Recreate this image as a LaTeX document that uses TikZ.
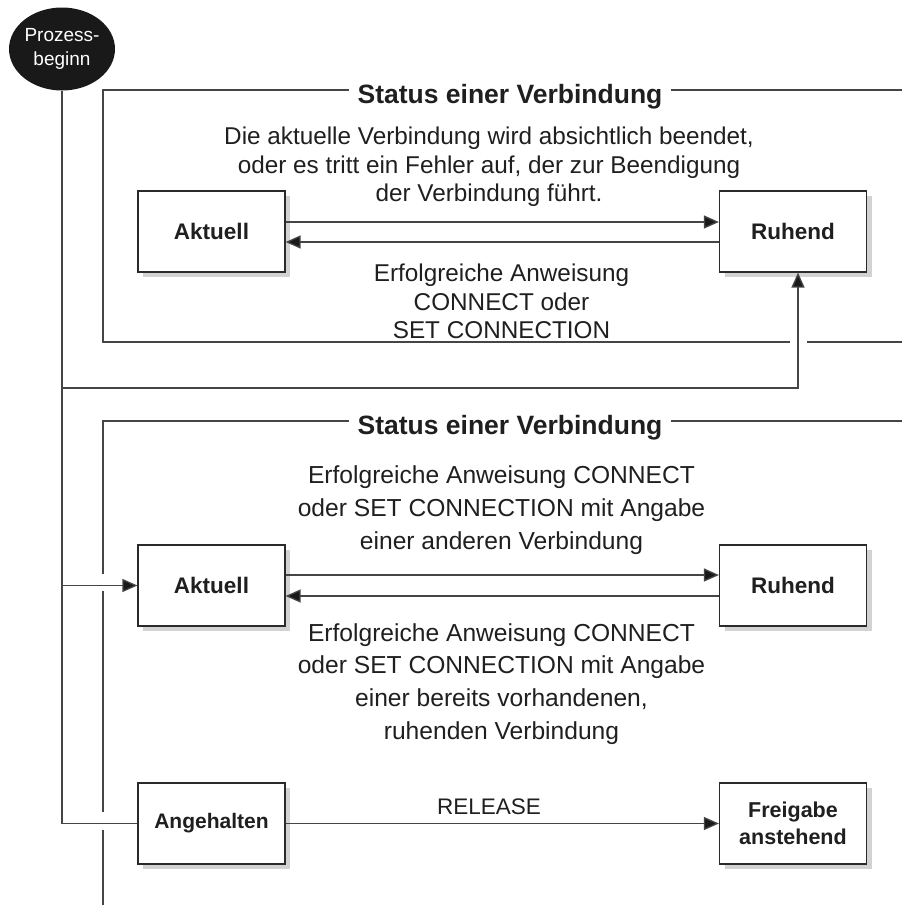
\documentclass[tikz,border=0pt]{standalone}
\usepackage{fontspec}
\setmainfont{Liberation Sans}
\usetikzlibrary{arrows.meta,shadows,shapes.geometric}
\definecolor{lncol}{HTML}{454545}
\definecolor{boxcol}{HTML}{2A2A2A}
\definecolor{shcol}{HTML}{D2D2D4}
\begin{document}
\begin{tikzpicture}[x=1pt,y=-1pt,
  ln/.style={draw=lncol, line width=1.3pt},
  arr/.style={ln, -{Triangle[length=15pt,width=13pt,fill=black!90]}},
  state/.style={draw=boxcol, line width=1.2pt, fill=white, minimum width=147pt, minimum height=81pt,
    inner sep=2pt, align=center, font=\bfseries\fontsize{22.5}{28}\selectfont, text=black!88,
    drop shadow={shadow xshift=5pt, shadow yshift=-5pt, fill=shcol, opacity=1}},
  title/.style={font=\bfseries\fontsize{26.5}{28}\selectfont, inner xsep=8pt, inner ysep=2pt, text=black!88},
  txtA/.style={align=center, font=\fontsize{24.3}{28.5}\selectfont, text=black!88},
  txtB/.style={align=center, font=\fontsize{24.6}{32.8}\selectfont, text=black!88},
  startnode/.style={ellipse, fill=black!90, minimum width=104pt, minimum height=83pt, inner sep=0pt,
    text=white, align=center, font=\fontsize{19}{24}\selectfont}
]
\useasboundingbox (0,0) rectangle (902,905);

% start
\node[startnode] (start) at (62,49) {Prozess-\\beginn};

% frame 1
\node[title] (t1) at (510,97) {Status einer Verbindung};
\node[txtA] (d1) at (489,167) {Die aktuelle Verbindung wird absichtlich beendet,\\oder es tritt ein Fehler auf, der zur Beendigung\\der Verbindung führt.};
\node[state] (a1) at (211.5,231.5) {Aktuell};
\node[state] (r1) at (793,231.5) {Ruhend};
\node[txtA] (d2) at (501.5,301.5) {Erfolgreiche Anweisung\\CONNECT oder\\SET CONNECTION};
\coordinate (f1tl) at (103,90);
\coordinate (f1bl) at (103,342);
\coordinate (f1g1) at (790,342);
\coordinate (f1g2) at (807,342);
\coordinate (f1br) at (902,342);
\coordinate (f1tr) at (902,90);
\draw[ln] (t1.west |- f1tl) -- (f1tl) -- (f1bl) -- (f1g1);
\draw[ln] (f1g2) -- (f1br);
\draw[ln] (t1.east |- f1tr) -- (f1tr);

\draw[arr] ([yshift=9.5pt]a1.east) -- ([yshift=9.5pt]r1.west);
\draw[arr] ([yshift=-10.5pt]r1.west) -- ([yshift=-10.5pt]a1.east);

% frame 2
\node[title] (t2) at (510,428) {Status einer Verbindung};
\node[txtB] (d3) at (501.5,510) {Erfolgreiche Anweisung CONNECT\\oder SET CONNECTION mit Angabe\\einer anderen Verbindung};
\node[state] (a2) at (211.5,585.5) {Aktuell};
\node[state] (r2) at (793,585.5) {Ruhend};
\node[txtB] (d4) at (501.5,684) {Erfolgreiche Anweisung CONNECT\\oder SET CONNECTION mit Angabe\\einer bereits vorhandenen,\\ruhenden Verbindung};
\node[state, font=\bfseries\fontsize{21}{28}\selectfont] (h) at (211.5,823.5) {Angehalten};
\node[state, font=\bfseries\fontsize{21.5}{27}\selectfont] (fa) at (793,823.5) {Freigabe\\anstehend};
\node[txtA, font=\fontsize{22.5}{28}\selectfont] (rel) at (489,807) {RELEASE};

\coordinate (f2tl) at (103,421);
\coordinate (f2tr) at (902,421);
\coordinate (f2a) at (103,574);
\coordinate (f2b) at (103,591);
\coordinate (f2c) at (103,812);
\coordinate (f2d) at (103,830);
\coordinate (f2e) at (103,905);
\draw[ln] (t2.west |- f2tl) -- (f2tl) -- (f2a);
\draw[ln] (f2b) -- (f2c);
\draw[ln] (f2d) -- (f2e);
\draw[ln] (t2.east |- f2tr) -- (f2tr);

\draw[arr] ([yshift=10.5pt]a2.east) -- ([yshift=10.5pt]r2.west);
\draw[arr] ([yshift=-10.5pt]r2.west) -- ([yshift=-10.5pt]a2.east);
\draw[arr] (h.east) -- (fa.west);

% process line
\coordinate (j1) at (62,388);
\draw[ln] (start.south) -- (start.south |- h.west) -- (h.west);
\draw[arr] (j1) -| ([xshift=5pt]r1.south);
\draw[arr] (start.south |- a2.west) -- (a2.west);
\end{tikzpicture}
\end{document}
